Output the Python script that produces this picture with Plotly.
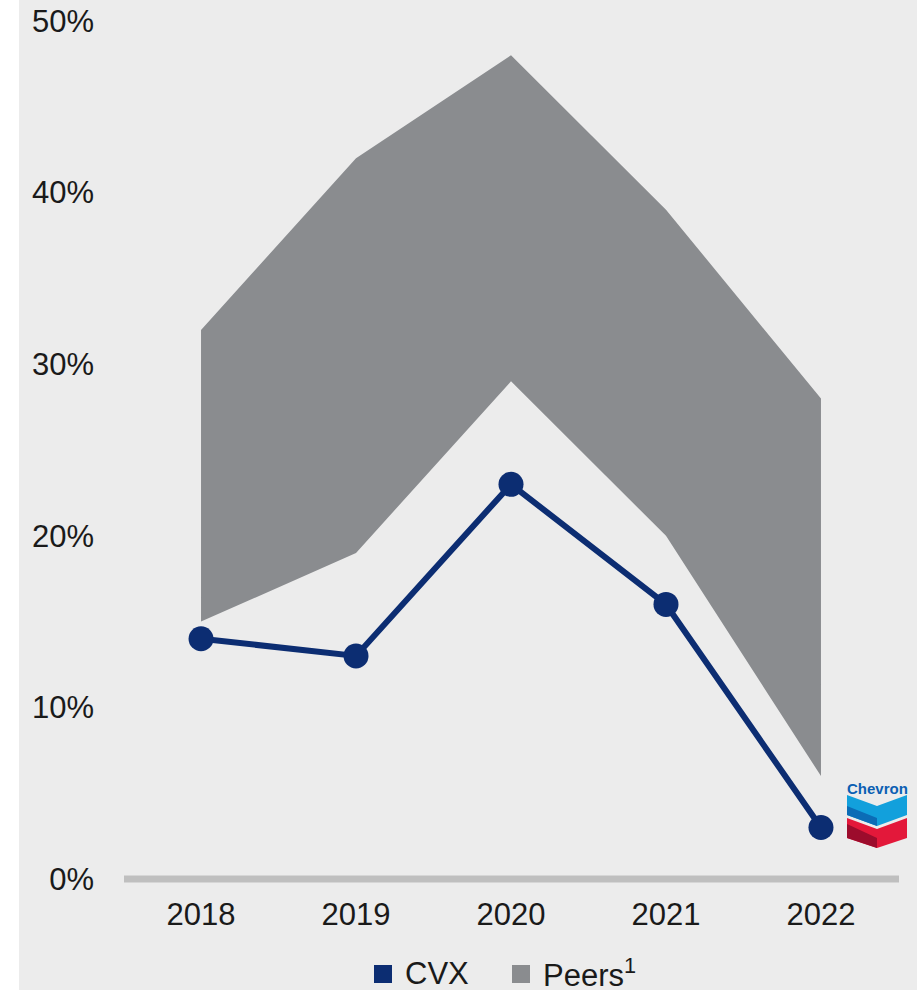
import plotly.graph_objects as go

# Data
years = [2018, 2019, 2020, 2021, 2022]
cvx = [0.14, 0.13, 0.23, 0.16, 0.03]
peers_low = [0.15, 0.19, 0.29, 0.20, 0.06]
peers_high = [0.32, 0.42, 0.48, 0.39, 0.28]
y_ticks = [0, 0.1, 0.2, 0.3, 0.4, 0.5]

CVX_BLUE = "#0c2d72"
PEER_GREY = "#8a8c8f"
BG = "#ececec"
FONT = "Arial, Liberation Sans, sans-serif"

# Plot-area geometry (pixels)
W, H = 917, 990
ML, MR, MT, MB = 124, 19, 21, 111
PW, PH = W - ML - MR, H - MT - MB


def px(x):
    return (x - ML) / PW


def py(y):
    return (H - MB - y) / PH


fig = go.Figure()

# Peers range band
fig.add_trace(go.Scatter(x=years, y=peers_low, mode="lines", line=dict(width=0),
                         showlegend=False, hoverinfo="skip"))
fig.add_trace(go.Scatter(x=years, y=peers_high, mode="lines", line=dict(width=0),
                         fill="tonexty", fillcolor=PEER_GREY, showlegend=False,
                         hoverinfo="skip"))

# CVX line
fig.add_trace(go.Scatter(x=years, y=cvx, mode="lines+markers",
                         line=dict(color=CVX_BLUE, width=6),
                         marker=dict(color=CVX_BLUE, size=25),
                         showlegend=False))

shapes = []
# Panel background
shapes.append(dict(type="rect", xref="paper", yref="paper",
                   x0=px(19), x1=px(917), y0=py(990), y1=py(0),
                   fillcolor=BG, line=dict(width=0), layer="below"))
# Baseline
shapes.append(dict(type="line", xref="paper", yref="paper",
                   x0=px(124), x1=px(899), y0=py(879), y1=py(879),
                   line=dict(color="#bfbfbf", width=7), layer="below"))

# Legend swatches
for x0, col in [(374, CVX_BLUE), (512, PEER_GREY)]:
    shapes.append(dict(type="rect", xref="paper", yref="paper",
                       x0=px(x0), x1=px(x0 + 18), y0=py(983), y1=py(965),
                       fillcolor=col, line=dict(width=0)))


def poly(pts, color):
    d = "M " + " L ".join(f"{px(a)},{py(b)}" for a, b in pts) + " Z"
    return dict(type="path", xref="paper", yref="paper", path=d,
                fillcolor=color, line=dict(width=0))


# Chevron hallmark
shapes.append(poly([(847, 795), (877, 806), (907, 795), (907, 815), (877, 826), (847, 815)], "#12a0dc"))
shapes.append(poly([(847, 806), (877, 818), (877, 826), (847, 815)], "#0b6cb6"))
shapes.append(poly([(847, 818), (877, 829), (907, 818), (907, 838), (877, 848), (847, 838)], "#e3183a"))
shapes.append(poly([(847, 824), (877, 838), (877, 848), (847, 838)], "#9c0c2c"))

annotations = [
    dict(xref="paper", yref="paper", x=px(403), y=py(973), xanchor="left", yanchor="middle",
         text="CVX", showarrow=False, font=dict(size=31, color="#1a1a1a", family=FONT)),
    dict(xref="paper", yref="paper", x=px(541), y=py(973), xanchor="left", yanchor="middle",
         text="Peers<sup>1</sup>", showarrow=False, font=dict(size=31, color="#1a1a1a", family=FONT)),
    dict(xref="paper", yref="paper", x=px(877), y=py(788), xanchor="center", yanchor="middle",
         text="<b>Chevron</b>", showarrow=False, font=dict(size=15, color="#0b5fb3", family=FONT)),
]

fig.update_layout(
    width=W, height=H,
    margin=dict(l=ML, r=MR, t=MT, b=MB, pad=0, autoexpand=False),
    paper_bgcolor="white",
    plot_bgcolor="rgba(0,0,0,0)",
    font=dict(family=FONT, size=31, color="#1a1a1a"),
    shapes=shapes,
    annotations=annotations,
    showlegend=False,
    xaxis=dict(range=[2017.503, 2022.497], tickvals=years, ticktext=[str(y) for y in years],
               showgrid=False, zeroline=False, showline=False, ticks="",
               ticklabelstandoff=14, automargin=False),
    yaxis=dict(range=[0, 0.5], tickvals=y_ticks, tickformat=".0%",
               showgrid=False, zeroline=False, showline=False, ticks="",
               ticklabelstandoff=29, automargin=False),
)

fig.write_html("out.html")
